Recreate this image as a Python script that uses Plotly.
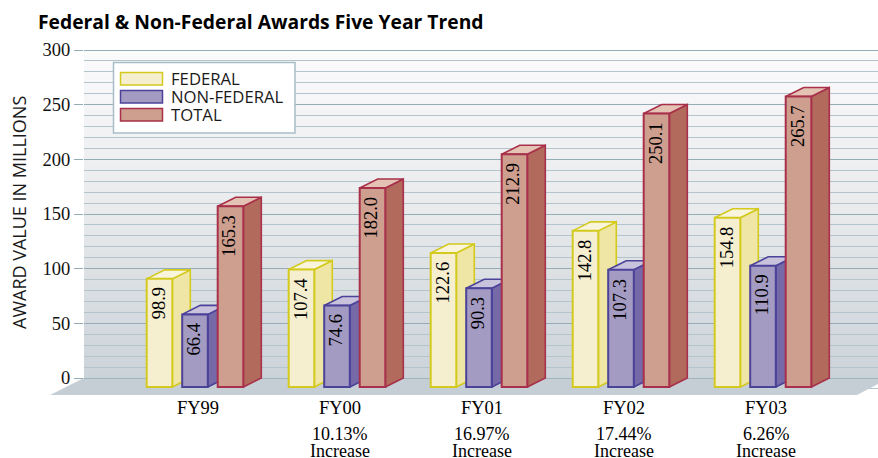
import plotly.graph_objects as go

# ---------- data ----------
categories = ["FY99", "FY00", "FY01", "FY02", "FY03"]
federal = [98.9, 107.4, 122.6, 142.8, 154.8]
non_federal = [66.4, 74.6, 90.3, 107.3, 110.9]
total = [165.3, 182.0, 212.9, 250.1, 265.7]
increases = ["", "10.13%", "16.97%", "17.44%", "6.26%"]

# ---------- geometry ----------
W, H = 878, 458
PX_PER_CAT = 142.0
PX_PER_VAL = 328.0 / 300.0
Y0_PX = 378.0
CAT0_PX = 198.0
PLOT_L, PLOT_T, PLOT_B = 84, 40, 395
DX = 18 / PX_PER_CAT
DY = 9 / PX_PER_VAL
BAR_W = 25.6 / PX_PER_CAT


def to_x(px):
    return (px - CAT0_PX) / PX_PER_CAT


def to_y(py):
    return (Y0_PX - py) / PX_PER_VAL


def px_(px):
    return (px - PLOT_L) / (W - PLOT_L)


def py_(py):
    return (PLOT_B - py) / (PLOT_B - PLOT_T)


FONT_SERIF = "Liberation Serif"
FONT_SANS = "Open Sans"

series = [
    dict(name="FEDERAL", values=federal, off=-38.5 / PX_PER_CAT,
         front="#f6efcf", side="#efe6a6", top="#f9f5dc", line="#d4ca1e"),
    dict(name="NON-FEDERAL", values=non_federal, off=-3.0 / PX_PER_CAT,
         front="#a49bc2", side="#7569a8", top="#c8c2dc", line="#4b429a"),
    dict(name="TOTAL", values=total, off=32.5 / PX_PER_CAT,
         front="#ce9e8e", side="#b26a5c", top="#e4c2b4", line="#a8304a"),
]

fig = go.Figure()

# floor inside the plot area (hides the sub-zero grid)
fig.add_trace(go.Scatter(
    x=[to_x(84), to_x(878), to_x(878), to_x(857), to_x(84), to_x(84)],
    y=[-0.6, -0.6, to_y(384), to_y(395), to_y(395), -0.6],
    mode="lines", fill="toself", fillcolor="#c6ced5", line=dict(width=0),
    hoverinfo="skip", showlegend=False, zorder=0))

annotations = []
z = 1
for s in series:
    xs_side, ys_side, xs_top, ys_top = [], [], [], []
    for i, v in enumerate(s["values"]):
        x1 = i + s["off"] + BAR_W / 2
        x0 = x1 - BAR_W
        top = v - DY
        base = -DY
        xs_side += [x1, x1 + DX, x1 + DX, x1, x1, None]
        ys_side += [base, base + DY, top + DY, top, base, None]
        xs_top += [x0, x0 + DX, x1 + DX, x1, x0, None]
        ys_top += [top, top + DY, top + DY, top, top, None]
        annotations.append(dict(
            x=i + s["off"] - 1.0 / PX_PER_CAT, y=top, xref="x", yref="y", text=f"{v:.1f}",
            textangle=-90, showarrow=False, yanchor="top", yshift=-7,
            font=dict(family=FONT_SERIF, size=18.5, color="#000000")))
    for xs, ys, col in ((xs_side, ys_side, s["side"]), (xs_top, ys_top, s["top"])):
        fig.add_trace(go.Scatter(
            x=xs, y=ys, mode="lines", fill="toself", fillcolor=col,
            line=dict(color=s["line"], width=1.6), hoverinfo="skip",
            showlegend=False, zorder=z))
    z += 1
    fig.add_trace(go.Bar(
        x=[i + s["off"] for i in range(len(categories))],
        y=s["values"], base=-DY, width=BAR_W, name=s["name"],
        marker=dict(color=s["front"], line=dict(color=s["line"], width=2)),
        showlegend=False, zorder=z))
    z += 1

# ---------- decorations: wall gradient, floor wedge, legend ----------
stops = [(50, (251, 251, 252)), (105, (245, 245, 247)), (160, (238, 239, 241)),
         (215, (232, 234, 236)), (270, (221, 225, 228)), (378, (203, 211, 218))]


def wall_colour(py):
    for (a, ca), (b, cb) in zip(stops, stops[1:]):
        if a <= py <= b:
            t = (py - a) / (b - a)
            return "rgb(%d,%d,%d)" % tuple(round(p + (q - p) * t) for p, q in zip(ca, cb))
    return "rgb(203,211,218)"


shapes = []
for py in range(50, 378, 2):
    shapes.append(dict(type="rect", xref="paper", yref="paper", layer="below",
                       x0=0, x1=1, y0=py_(py + 2.5), y1=py_(py),
                       fillcolor=wall_colour(py), line=dict(width=0)))

shapes.append(dict(type="path", xref="paper", yref="paper", layer="below",
                   path=f"M{px_(50)},{py_(395)} L{px_(84)},{py_(378)} L{px_(85)},{py_(378)} "
                        f"L{px_(85)},{py_(395)} Z",
                   fillcolor="#c6ced5", line=dict(width=0)))

shapes.append(dict(type="rect", xref="paper", yref="paper", layer="above",
                   x0=px_(113.5), x1=px_(295), y0=py_(133), y1=py_(62.5),
                   fillcolor="white", line=dict(color="#a9bdc7", width=1.5)))

for s, (y0, y1) in zip(series, ((72.5, 85), (90.5, 103), (108.5, 121))):
    shapes.append(dict(type="rect", xref="paper", yref="paper", layer="above",
                       x0=px_(120.5), x1=px_(162.5), y0=py_(y1), y1=py_(y0),
                       fillcolor=s["front"], line=dict(color=s["line"], width=1.5)))
    annotations.append(dict(
        x=px_(169), y=py_((y0 + y1) / 2), xref="paper", yref="paper", text=s["name"],
        xanchor="left", yanchor="middle", showarrow=False,
        font=dict(family=FONT_SANS, size=16.7, color="#1a1a1a")))

# ---------- extra text ----------
for i, inc in enumerate(increases):
    if inc:
        annotations.append(dict(x=i, y=py_(433.5), xref="x", yref="paper", text=inc, showarrow=False,
                                yanchor="middle", font=dict(family=FONT_SERIF, size=18, color="#000000")))
        annotations.append(dict(x=i, y=py_(451), xref="x", yref="paper", text="Increase", showarrow=False,
                                yanchor="middle", font=dict(family=FONT_SERIF, size=18, color="#000000")))

annotations.append(dict(
    x=px_(19), y=py_(213), xref="paper", yref="paper", text="AWARD VALUE IN MILLIONS",
    textangle=-90, showarrow=False, xanchor="center", yanchor="middle",
    font=dict(family=FONT_SANS, size=18, color="#1a1a1a")))

fig.update_layout(
    width=W, height=H, barmode="overlay", showlegend=False,
    margin=dict(l=PLOT_L, r=0, t=PLOT_T, b=H - PLOT_B, autoexpand=False),
    paper_bgcolor="white", plot_bgcolor="rgba(0,0,0,0)",
    title=dict(text="<b>Federal & Non-Federal Awards Five Year Trend</b>",
               x=38 / W, xanchor="left", xref="container", y=1 - 22 / H, yanchor="middle", yref="container",
               font=dict(family=FONT_SANS, size=19.3, color="#000000")),
    xaxis=dict(range=[to_x(PLOT_L), to_x(W)], tickmode="array",
               tickvals=list(range(len(categories))), ticktext=categories,
               anchor="free", position=py_(389),
               showgrid=False, zeroline=False, showline=False,
               ticks="outside", ticklen=2, tickcolor="rgba(0,0,0,0)",
               tickfont=dict(family=FONT_SERIF, size=18.5, color="#000000")),
    yaxis=dict(range=[to_y(PLOT_B), to_y(PLOT_T)], tickmode="linear", tick0=0, dtick=50,
               showgrid=True, gridcolor="#93acb6", gridwidth=1.4,
               zeroline=False, showline=False,
               ticks="outside", ticklen=9, tickwidth=1.4, tickcolor="#93acb6",
               tickfont=dict(family=FONT_SERIF, size=18.5, color="#111111"),
               minor=dict(dtick=10, tick0=0, showgrid=True, gridcolor="#b4c4cc", gridwidth=1.1, ticks="")),
    shapes=shapes, annotations=annotations,
)

fig.write_html("out.html", config={"displayModeBar": False},
               post_script="document.body.style.margin='0';document.documentElement.style.overflow='hidden';")
